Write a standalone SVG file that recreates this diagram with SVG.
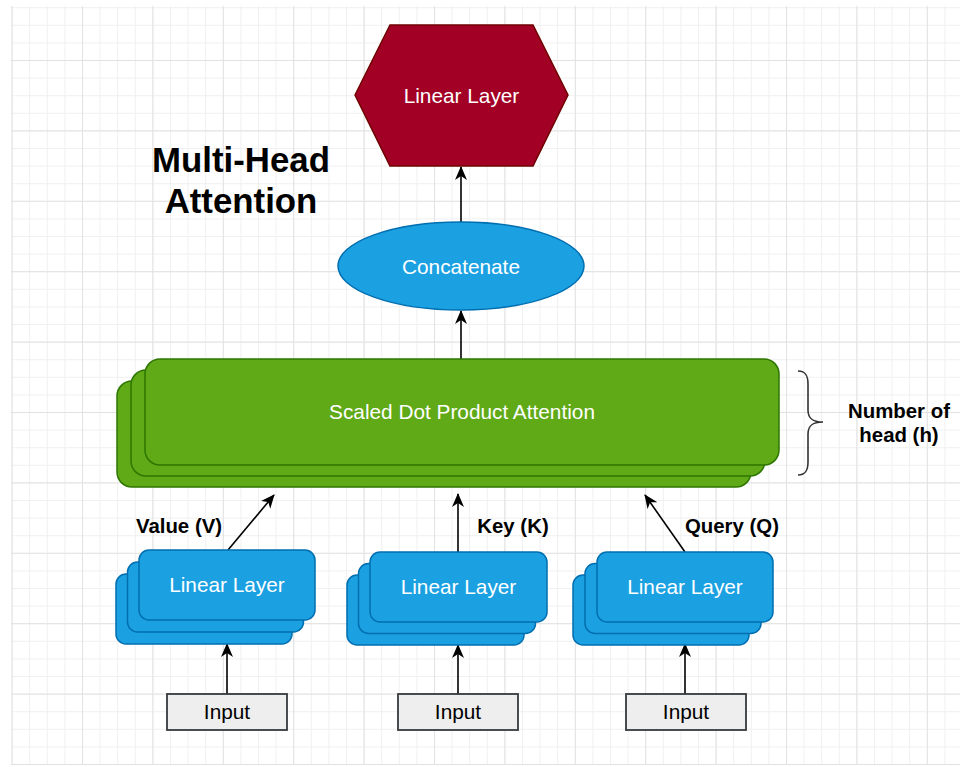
<svg xmlns="http://www.w3.org/2000/svg" width="960" height="767" viewBox="0 0 960 767">
  <defs>
    <pattern id="grid-minor" x="11.6" y="7.2" width="17.6" height="17.6" patternUnits="userSpaceOnUse">
      <path d="M0,0.5 H17.6 M0.5,0 V17.6" fill="none" stroke="#f0f0f0" stroke-width="1"/>
    </pattern>
    <pattern id="grid-major" x="11.6" y="-10.4" width="70.4" height="70.4" patternUnits="userSpaceOnUse">
      <path d="M0,0.5 H70.4 M0.5,0 V70.4" fill="none" stroke="#e2e2e2" stroke-width="1"/>
    </pattern>
    <marker id="arrow" viewBox="0 0 14 14" refX="13" refY="7" markerWidth="14" markerHeight="14" markerUnits="userSpaceOnUse" orient="auto">
      <path d="M0,1 L14,7 L0,13 L4,7 z" fill="#000"/>
    </marker>
    <style>
      .label { font-family: "Liberation Sans", Arial, sans-serif; font-size: 20.8px; fill: #ffffff; text-anchor: middle; }
      .dark { fill: #000000; }
      .bold { font-family: "Liberation Sans", Arial, sans-serif; font-size: 20.4px; font-weight: bold; fill: #000; text-anchor: middle; }
      .title { font-family: "Liberation Sans", Arial, sans-serif; font-size: 34.8px; font-weight: bold; fill: #000; text-anchor: middle; }
      .blue { fill: #1ba1e2; stroke: #006eaf; stroke-width: 1.5; }
      .green { fill: #60a917; stroke: #2d7600; stroke-width: 1.5; }
      .input { fill: #eeeeee; stroke: #36393d; stroke-width: 1.8; }
      .edge { fill: none; stroke: #000; stroke-width: 1.6; marker-end: url(#arrow); }
    </style>
  </defs>

  <!-- canvas with grid -->
  <rect width="960" height="767" fill="#ffffff"/>
  <rect x="11" y="6" width="949" height="759" fill="url(#grid-minor)"/>
  <rect x="11" y="6" width="949" height="759" fill="url(#grid-major)"/>

  <!-- connectors -->
  <g id="connectors">
    <line class="edge" x1="461" y1="222" x2="461" y2="167"/>
    <line class="edge" x1="461" y1="359" x2="461" y2="311"/>
    <line class="edge" x1="228" y1="550" x2="274" y2="495"/>
    <line class="edge" x1="458" y1="552" x2="458" y2="494"/>
    <line class="edge" x1="685" y1="552" x2="645" y2="495"/>
    <line class="edge" x1="227" y1="694" x2="227" y2="644"/>
    <line class="edge" x1="458" y1="694" x2="458" y2="645"/>
    <line class="edge" x1="685" y1="694" x2="685" y2="644"/>
  </g>

  <!-- title -->
  <g id="title">
    <text class="title" x="241" y="172">Multi-Head</text>
    <text class="title" x="241" y="213">Attention</text>
  </g>

  <!-- output projection -->
  <g id="linear-out">
    <polygon points="355,95 390,25 533,25 568,95 533,166 390,166" fill="#a20025" stroke="#6f0000" stroke-width="1.5"/>
    <text class="label" x="461.5" y="103">Linear Layer</text>
  </g>

  <!-- concatenate -->
  <g id="concat">
    <ellipse class="blue" cx="461" cy="266" rx="123" ry="44"/>
    <text class="label" x="461" y="274">Concatenate</text>
  </g>

  <!-- attention heads -->
  <g id="attention">
    <rect class="green" x="117" y="381" width="634" height="106" rx="15"/>
    <rect class="green" x="131" y="370" width="634" height="106" rx="15"/>
    <rect class="green" x="145" y="359" width="634" height="106" rx="15"/>
    <text class="label" x="462" y="419">Scaled Dot Product Attention</text>
  </g>

  <!-- head count brace -->
  <g id="heads-brace">
    <path d="M798,371 C806,371 808,376 808,384 L808,410 C808,418 812,422 823,422 C812,422 808,426 808,434 L808,462 C808,470 806,475 798,475" fill="none" stroke="#333" stroke-width="1.6"/>
    <text class="bold" x="899" y="418">Number of</text>
    <text class="bold" x="899" y="442">head (h)</text>
  </g>

  <!-- value branch -->
  <g id="linear-v">
    <rect class="blue" x="116" y="574" width="176" height="70" rx="10"/>
    <rect class="blue" x="127.5" y="562" width="176" height="70" rx="10"/>
    <rect class="blue" x="139" y="550" width="176" height="70" rx="10"/>
    <text class="label" x="227" y="592">Linear Layer</text>
  </g>
  <g id="label-v"><text class="bold" x="179" y="533">Value (V)</text></g>
  <g id="input-v">
    <rect class="input" x="167" y="694" width="120" height="36"/>
    <text class="label dark" x="227" y="719">Input</text>
  </g>

  <!-- key branch -->
  <g id="linear-k">
    <rect class="blue" x="347" y="575" width="177" height="70" rx="10"/>
    <rect class="blue" x="358.5" y="563.5" width="177" height="70" rx="10"/>
    <rect class="blue" x="370" y="552" width="177" height="70" rx="10"/>
    <text class="label" x="458.5" y="594">Linear Layer</text>
  </g>
  <g id="label-k"><text class="bold" x="513" y="533">Key (K)</text></g>
  <g id="input-k">
    <rect class="input" x="398" y="694" width="120" height="36"/>
    <text class="label dark" x="458" y="719">Input</text>
  </g>

  <!-- query branch -->
  <g id="linear-q">
    <rect class="blue" x="573" y="575" width="176" height="70" rx="10"/>
    <rect class="blue" x="585" y="563.5" width="176" height="70" rx="10"/>
    <rect class="blue" x="597" y="552" width="176" height="70" rx="10"/>
    <text class="label" x="685" y="594">Linear Layer</text>
  </g>
  <g id="label-q"><text class="bold" x="732" y="533">Query (Q)</text></g>
  <g id="input-q">
    <rect class="input" x="626" y="694" width="120" height="36"/>
    <text class="label dark" x="686" y="719">Input</text>
  </g>
</svg>
